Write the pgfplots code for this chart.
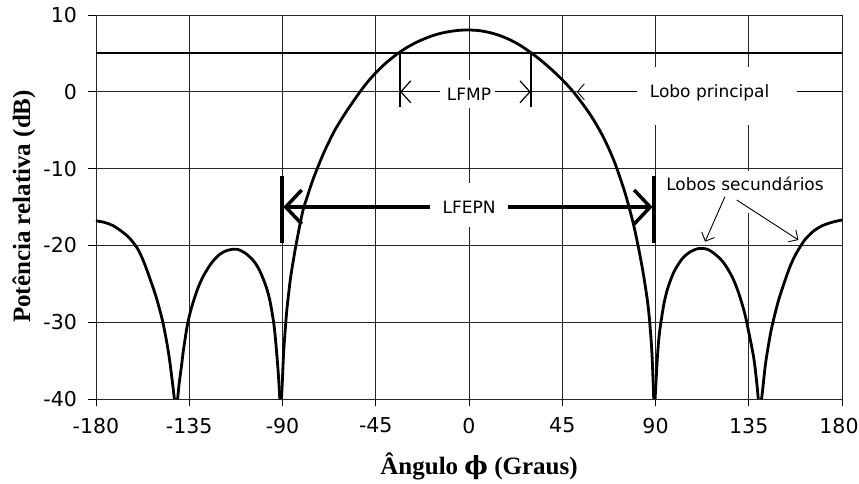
\documentclass[border=0pt]{standalone}
\usepackage{fontspec}
\usepackage{pgfplots}
\usepackage{pgfplotstable}
\pgfplotsset{compat=1.18}
\usetikzlibrary{arrows.meta}
\setmainfont{DejaVu Sans}
\newfontfamily\serifb{Liberation Serif}
\newfontfamily\dvserif{DejaVu Serif}

\pgfplotstableread{
phi db
-180 -16.8
-176 -17.0
-172 -17.4
-168 -18.1
-164 -19.0
-160 -20.4
-157 -22.1
-154 -24.3
-151 -26.7
-148 -29.7
-146 -32.4
-144.5 -34.9
-143 -38.1
-141.3 -42
}\lobeA
\pgfplotstableread{
phi db
-141.3 -42
-140 -38.3
-138.6 -35.4
-138 -34.0
-136 -30.5
-134 -28.2
-131 -25.7
-128 -23.9
-124 -22.2
-120 -21.1
-116 -20.6
-112 -20.5
-108 -21.0
-104 -22.0
-101 -23.3
-98 -25.3
-96 -27.3
-94 -30.6
-92.5 -35.0
-91.6 -38.5
-91.0 -42
}\lobeB
\pgfplotstableread{
phi db
-91.0 -42
-90.4 -39.5
-90 -37.25
-89.5 -34.15
-89 -32.13
-88 -28.68
-87 -26.19
-86 -24.01
-84 -20.71
-82 -17.86
-80 -15.31
-78 -13.62
-75 -11.21
-70 -7.90
-65 -5.13
-60 -2.91
-55 -0.92
-50 0.93
-45 2.47
-40 3.77
-35 4.86
-30 5.76
-25 6.49
-20 7.07
-15 7.52
-10 7.82
-5 8.00
-0.5 8.05
5 7.96
10 7.71
15 7.31
20 6.74
25 6.00
30 5.07
35 4.03
40 2.86
45 1.57
50 0.11
55 -1.63
60 -3.6
65 -6.0
70 -9.0
75 -12.9
78 -15.8
80 -18.0
82 -20.6
84 -23.5
86 -27.0
87 -29.4
88 -32.8
88.6 -36.0
89.4 -42
}\lobeC
\pgfplotstableread{
phi db
89.4 -42
90.2 -38
91 -34.2
92 -31.2
94 -27.7
96 -25.5
99 -23.4
103 -21.7
107 -20.8
111 -20.4
115 -20.5
119 -21.2
123 -22.3
127 -24.1
130 -26.1
133 -28.8
135 -31.3
137 -34.0
138 -35.8
139.2 -38.8
140.2 -42
}\lobeD
\pgfplotstableread{
phi db
140.2 -42
141.5 -39.3
143 -35.6
144.5 -33.0
146 -30.8
149 -27.5
152 -24.95
155 -22.7
158 -21.0
162 -19.3
166 -18.2
170 -17.5
175 -17.0
180 -16.7
}\lobeE

\begin{document}
\begin{tikzpicture}[x=1pt,y=1pt]
\useasboundingbox (0,0) rectangle (859,484);
\begin{axis}[
  at={(96pt,85pt)}, anchor=south west,
  width=746pt, height=384pt, scale only axis,
  xmin=-180, xmax=180, ymin=-40, ymax=10,
  xtick={-180,-135,...,135}, ytick={-40,-30,...,10},
  extra x ticks={180},
  extra x tick style={xticklabel style={xshift=-3pt}},
  tick pos=left, tick align=outside, major tick length=7.5pt,
  grid=major, grid style={black!85, line width=0.9pt},
  axis line style={black!85, line width=0.9pt},
  major tick style={black, line width=0.9pt},
  /pgf/number format/assume math mode=true,
  ticklabel style={font=\fontsize{20.5}{24}\selectfont},
  yticklabel style={xshift=-8pt},
  xticklabel style={yshift=-8pt},
]
\pgfplotsset{lobe/.style={black, line width=2.8pt, smooth, line join=round, line cap=round, mark=none}}
\addplot[lobe] table[x=phi,y=db] {\lobeA};
\addplot[lobe] table[x=phi,y=db] {\lobeB};
\addplot[lobe] table[x=phi,y=db] {\lobeC};
\addplot[lobe] table[x=phi,y=db] {\lobeD};
\addplot[lobe] table[x=phi,y=db] {\lobeE};

% 5 dB line
\draw[line width=2pt] (axis cs:-180,5) -- (axis cs:180,5);
% LFMP
\draw[line width=2pt] (axis cs:-33.5,5) -- (axis cs:-33.5,-2);
\draw[line width=2pt] (axis cs:30,5) -- (axis cs:30,-2);
\draw[line width=1.2pt, {Straight Barb[length=10pt,width=22pt]}-{Straight Barb[length=10pt,width=22pt]}] (axis cs:-33.3,0) -- (axis cs:29.8,0);
\fill[white] (axis cs:-14,1.54) rectangle (axis cs:12.6,-2.1);
\node[anchor=base, font=\fontsize{17}{20}\selectfont, inner sep=0pt] at (axis cs:0,-1.07) {LFMP};
% LFEPN
\draw[line width=3.5pt] (axis cs:-90.2,-11) -- (axis cs:-90.2,-19.7);
\draw[line width=3.5pt] (axis cs:89.2,-11) -- (axis cs:89.2,-19.7);
\draw[line width=3.5pt, {Straight Barb[length=16pt,width=34pt]}-{Straight Barb[length=16pt,width=34pt]}] (axis cs:-89.6,-15) -- (axis cs:88.6,-15);
\fill[white] (axis cs:-18.8,-11.9) rectangle (axis cs:18.8,-17.6);
\node[anchor=base, font=\fontsize{17}{20}\selectfont, inner sep=0pt] at (axis cs:0.1,-15.8) {LFEPN};
% Lobo principal
\draw[line width=0.9pt, {Straight Barb[length=7pt,width=16pt]}-] (axis cs:52,0) -- (axis cs:180,0);
\fill[white] (axis cs:80.9,3.27) rectangle (axis cs:158.1,-4.32);
\node[anchor=base, font=\fontsize{17}{20}\selectfont, inner sep=0pt] at (axis cs:116.1,-0.77) {Lobo principal};
% Lobos secundarios
\fill[white] (axis cs:92.2,-10.3) rectangle (axis cs:175.2,-15.8);
\node[anchor=base, font=\fontsize{17}{20}\selectfont, inner sep=0pt] at (axis cs:133.2,-12.79) {Lobos secundários};
\draw[line width=0.9pt, -{Straight Barb[length=7pt,width=14pt]}] (axis cs:123.5,-13.66) -- (axis cs:113.9,-19.52);
\draw[line width=0.9pt, -{Straight Barb[length=7pt,width=14pt]}] (axis cs:129.2,-14.09) -- (axis cs:159,-19.3);
\end{axis}
\node[rotate=90, anchor=base, font=\serifb\bfseries\fontsize{25}{28}\selectfont, inner sep=0pt] at (30,277.5) {Potência relativa (dB)};
\node[anchor=base, font=\serifb\bfseries\fontsize{25}{28}\selectfont, inner sep=0pt] at (479,9) {Ângulo {\dvserif\bfseries ϕ} (Graus)};
\end{tikzpicture}
\end{document}
